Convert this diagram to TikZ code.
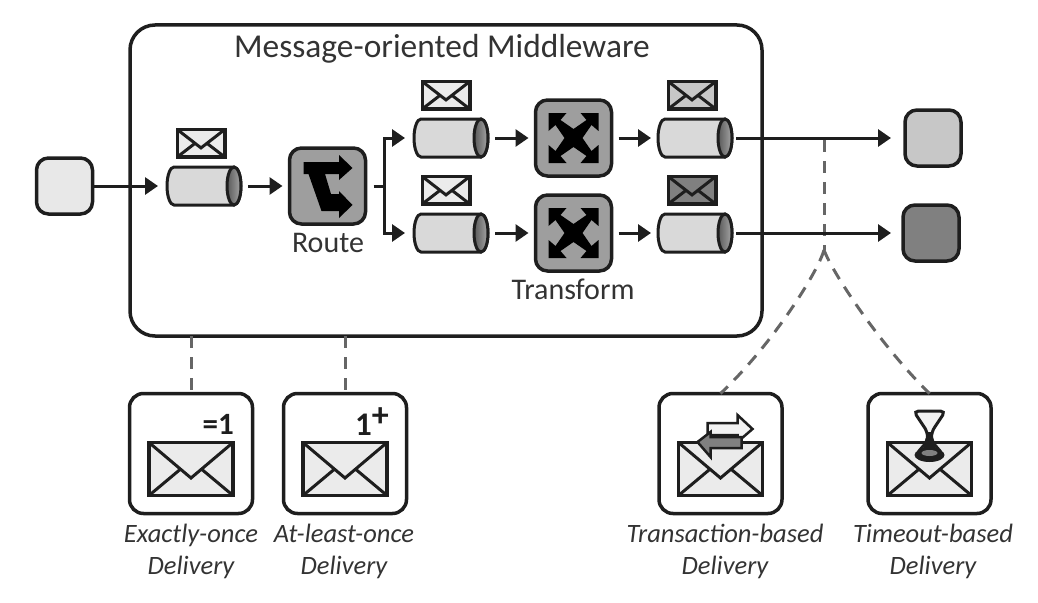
\documentclass[tikz,border=0pt]{standalone}
\usepackage{fontspec}
\setmainfont{Carlito}
\usetikzlibrary{
  arrows.meta,
  calc,
  positioning
}
\definecolor{ink}{HTML}{1E1E1E}
\definecolor{labelgray}{HTML}{333333}
\tikzset{
  >={Triangle[length=13pt,width=17pt]},
  wire/.style={draw=ink,line width=3pt},
  flow/.style={wire,->,shorten >=7pt,shorten <=7pt},
  dashwire/.style={draw=black!60,line width=3pt,dash pattern=on 12pt off 9pt},
  squarebox/.style={draw=ink,line width=3.5pt,rounded corners=12pt,inner sep=0pt,outer sep=0pt,minimum size=#1},
  opbox/.style={squarebox=76pt,fill=black!38},
  deliverybox/.style={draw=ink,line width=3.5pt,rounded corners=14pt,inner sep=0pt,outer sep=0pt,minimum width=123pt,minimum height=120pt},
  queue/.style={rectangle,inner sep=0pt,outer sep=0pt,minimum width=74pt,minimum height=38pt},
  envelope/.style={draw=ink,line width=3.5pt,inner sep=0pt,outer sep=0pt,fill=#1,
    path picture={
      \coordinate (nw) at (path picture bounding box.north west);
      \coordinate (ne) at (path picture bounding box.north east);
      \coordinate (sw) at (path picture bounding box.south west);
      \coordinate (se) at (path picture bounding box.south east);
      \coordinate (vtip) at ($(path picture bounding box.north)!0.67!(path picture bounding box.south)$);
      \draw[ink,line width=3pt] (nw) -- (vtip) -- (ne);
      \draw[ink,line width=3pt] (sw) -- ($(nw)!0.75!(vtip)$);
      \draw[ink,line width=3pt] (se) -- ($(ne)!0.75!(vtip)$);
    }},
  smallenv/.style={envelope=#1,minimum width=47.5pt,minimum height=27.5pt},
  bigenv/.style={envelope=black!8,minimum width=84pt,minimum height=53pt},
  routeicon/.style={opbox,path picture={
      \fill[black,sharp corners,shift={(path picture bounding box.center)}]
        (-24,-24) -- (11.5,-24) -- (11.5,-31) -- (25,-18) -- (11.5,-6) -- (11.5,-12) -- (-2.5,-12)
        -- (3.5,8) -- (11.5,8) -- (11.5,5) -- (25,19) -- (11.5,32) -- (11.5,25) -- (-6,25)
        -- (-19,-12) -- (-24,-12) -- cycle;
    }},
  crossicon/.style={opbox,path picture={
      \fill[black,sharp corners,shift={(path picture bounding box.center)}]
        (-25,-25) -- (-7,-25) -- (-13,-18) -- (0,-9) -- (13,-18) -- (7,-25) -- (25,-25)
        -- (25,-7) -- (18,-13) -- (9,0) -- (18,13) -- (25,7) -- (25,25)
        -- (7,25) -- (13,18) -- (0,9) -- (-13,18) -- (-7,25) -- (-25,25)
        -- (-25,7) -- (-18,13) -- (-9,0) -- (-18,-13) -- (-25,-7) -- cycle;
    }},
  caption/.style={text=labelgray,font=\fontsize{26.5}{32}\selectfont\itshape,align=center,inner sep=0pt},
  plainlabel/.style={text=labelgray,font=\fontsize{30}{34}\selectfont,inner sep=0pt}
}
\begin{document}
\begin{tikzpicture}[x=1pt,y=-1pt]
  \useasboundingbox (0,0) rectangle (1038,602);

  \node[draw=ink,line width=3.5pt,rounded corners=25pt,minimum width=632pt,minimum height=311pt,inner sep=0pt,outer sep=0pt] (mom) at (446,180.5) {};
  \node[text=labelgray,font=\fontsize{33.4}{38}\selectfont,inner sep=0pt] (momlabel) at (442,49) {Message-oriented Middleware};

  \node[squarebox=56pt,fill=black!9] (src) at (64.5,186) {};
  \node[queue] (q1) at (204,186) {};
  \node[smallenv=black!8,above = 10pt of q1,xshift=-3pt] (env1) {};
  \node[routeicon] (route) at (327.5,186) {};
  \node[plainlabel] (routelabel) at (328,243) {Route};
  \coordinate (split) at (384,186);

  \node[queue] (q2) at (451,138) {};
  \node[queue,below = 57pt of q2] (q3) {};
  \node[smallenv=black!8,above = 10pt of q2,xshift=-5pt] (env2) {};
  \node[smallenv=black!8,above = 10pt of q3,xshift=-5pt] (env3) {};
  \node[crossicon] (xf1) at (573.5,138) {};
  \node[crossicon] (xf2) at (573.5,233) {};
  \node[plainlabel] (xflabel) at (573,289) {Transform};
  \node[queue] (q4) at (695,138) {};
  \node[queue] (q5) at (695,233) {};
  \node[smallenv=black!22,above = 10pt of q4,xshift=-3pt] (env4) {};
  \node[smallenv=black!50,above = 10pt of q5,xshift=-3pt] (env5) {};
  \node[squarebox=56pt,fill=black!22] (tgt1) at (933,138) {};
  \node[squarebox=56pt,fill=black!50] (tgt2) at (931,233) {};

  \foreach \qn in {q1,q2,q3,q4,q5} {
    \draw[ink,line width=3pt,fill=black!15] ($(\qn.north west)+(7,0)$) -- ($(\qn.north east)+(-7,0)$)
      arc[start angle=90,end angle=-90,x radius=7pt,y radius=19pt] -- ($(\qn.south west)+(7,0)$)
      arc[start angle=270,end angle=90,x radius=7pt,y radius=19pt] -- cycle;
    \draw[ink,line width=3pt,left color=black!65,right color=black!35] ($(\qn.east)+(-7,0)$) ellipse (7pt and 19pt);
  }

  \coordinate (bustop) at (824,140);
  \coordinate (busfork) at (824,250);
  \draw[dashwire] (bustop) -- (busfork);

  \draw[flow,shorten <=0pt,shorten >=9pt] (src) -- (q1);
  \draw[flow] (q1) -- (route);
  \draw[wire,shorten <=8pt] (route) -- (split);
  \draw[flow,shorten <=0pt,shorten >=9pt] (split) |- (q2);
  \draw[flow,shorten <=0pt,shorten >=9pt] (split) |- (q3);
  \draw[flow] (q2) -- (xf1);
  \draw[flow] (q3) -- (xf2);
  \draw[flow] (xf1) -- (q4);
  \draw[flow] (xf2) -- (q5);
  \draw[flow,shorten <=4pt,shorten >=14pt] (q4) -- (tgt1);
  \draw[flow,shorten <=4pt,shorten >=12pt] (q5) -- (tgt2);

  \node[deliverybox] (box1) at (191,453.5) {};
  \node[deliverybox,right = 31pt of box1] (box2) {};
  \node[deliverybox] (box3) at (720.5,453.5) {};
  \node[deliverybox,right = 86pt of box3] (box4) {};
  \node[bigenv,above = 18pt of box1.south] (big1) {};
  \node[bigenv,above = 18pt of box2.south] (big2) {};
  \node[bigenv,above = 18pt of box3.south] (big3) {};
  \node[bigenv,above = 18pt of box4.south] (big4) {};

  \node[caption] (cap1) at (191,551) {Exactly-once\\Delivery};
  \node[caption] (cap2) at (344,551) {At-least-once\\Delivery};
  \node[caption] (cap3) at (725,551) {Transaction-based\\Delivery};
  \node[caption] (cap4) at (933,551) {Timeout-based\\Delivery};

  \node[text=ink,font=\fontsize{31}{34}\selectfont\bfseries,inner sep=0pt,anchor=base east] (once) at (234,434) {=1};
  \node[text=ink,font=\fontsize{33}{36}\selectfont\bfseries,inner sep=0pt,anchor=base east] (least) at (389,435) {1\raisebox{9pt}{\fontsize{34}{36}\selectfont +}};

  \draw[ink,line width=2.5pt,fill=black!5,shift={(big3.center)}]
    (-13,-46) -- (17,-46) -- (17,-54) -- (32,-40) -- (17,-27) -- (17,-34) -- (-13,-34) -- cycle;
  \draw[ink,line width=2.5pt,fill=black!50,shift={(big3.center)}]
    (-23,-27) -- (-10,-37) -- (-10,-32) -- (21,-32) -- (21,-21) -- (-10,-21) -- (-10,-12) -- cycle;

  \draw[ink,line width=3pt,fill=black!5,rounded corners=5pt,shift={(big4.center)}]
    (-16,-58) -- (16,-58) -- (2,-37) -- (2,-28) -- (14,-14) -- (-14,-14) -- (-2,-28) -- (-2,-37) -- cycle;
  \fill[ink,shift={(big4.center)}] (-2,-37) -- (2,-37) -- (7,-18) -- (-7,-18) -- cycle;
  \fill[ink,shift={(big4.center)}] (0,-14) ellipse (15pt and 7pt);
  \fill[black!50,shift={(big4.center)}] (0,-16) ellipse (8pt and 3pt);

  \draw[dashwire] (mom.south -| box1) -- (box1);
  \draw[dashwire] (mom.south -| box2) -- (box2);
  \draw[dashwire] (busfork) .. controls (818,272) and (772,345) .. (box3.north);
  \draw[dashwire] (busfork) .. controls (832,272) and (880,345) .. (box4.north);
\end{tikzpicture}
\end{document}
